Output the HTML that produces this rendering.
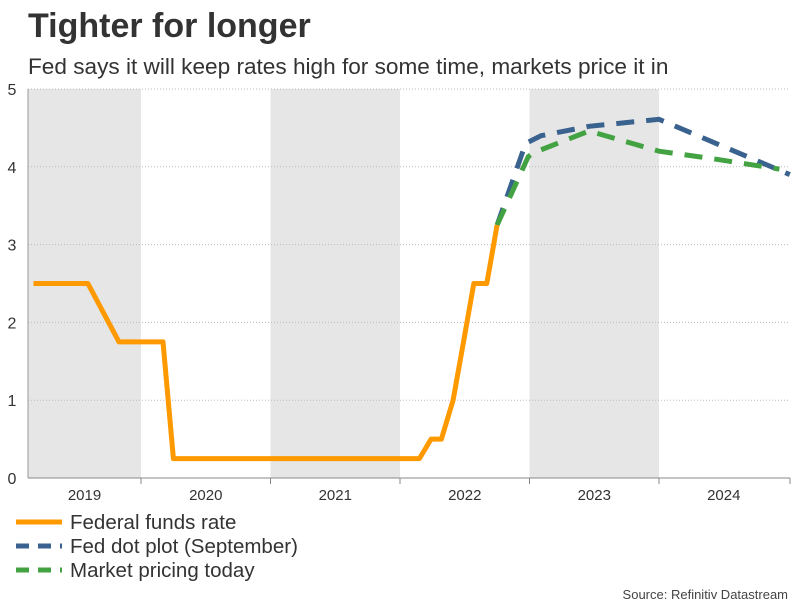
<!DOCTYPE html>
<html><head><meta charset="utf-8"><style>
body{margin:0;background:#fff;font-family:"Liberation Sans",sans-serif;}
svg text{font-family:"Liberation Sans",sans-serif;}
</style></head><body>
<svg width="806" height="605" id="c">
<text x="28" y="37" font-size="34" font-weight="bold" fill="#333">Tighter for longer</text>
<text x="28" y="74" font-size="22.6" fill="#333">Fed says it will keep rates high for some time, markets price it in</text>
<g id="bands"></g><g id="grid"></g><g id="axes"></g><g id="lines"></g>
<g>
<line x1="16" y1="522" x2="62" y2="522" stroke="#ff9900" stroke-width="5"/>
<text x="70" y="529" font-size="20.5" fill="#333">Federal funds rate</text>
<line x1="16" y1="546" x2="62" y2="546" stroke="#3a628e" stroke-width="5" stroke-dasharray="13,9"/>
<text x="70" y="553" font-size="20.5" fill="#333">Fed dot plot (September)</text>
<line x1="16" y1="570" x2="62" y2="570" stroke="#43a343" stroke-width="5" stroke-dasharray="13,9"/>
<text x="70" y="577" font-size="20.5" fill="#333">Market pricing today</text>
</g>
<text x="788" y="599" font-size="13" fill="#444" text-anchor="end">Source: Refinitiv Datastream</text>
</svg>
<script>
const yearLabels=[2019,2020,2021,2022,2023,2024];
const yTicks=[0,1,2,3,4,5];
const ffT=[2019.17,2019.59,2019.75,2019.83,2020.17,2020.25,2022.15,2022.24,2022.32,2022.41,2022.49,2022.57,2022.67,2022.75];
const ffV=[2.5,2.5,2.0,1.75,1.75,0.25,0.25,0.5,0.5,1.0,1.75,2.5,2.5,3.25];
const dotT=[2022.75,2022.97,2023.09,2023.46,2024.0,2025.01];
const dotV=[3.25,4.3,4.4,4.52,4.61,3.9];
const mktT=[2022.75,2022.99,2023.03,2023.46,2024.0,2024.39,2024.93];
const mktV=[3.25,4.13,4.18,4.46,4.2,4.11,3.97];
const NS="http://www.w3.org/2000/svg";
const X0=28,X1=790,Y0=478,Y1=89;
const xs=t=>141+(t-2020)*129.5;
const ys=v=>Y0-(v/5)*(Y0-Y1);
function mk(tag,at,p){const e=document.createElementNS(NS,tag);for(const k in at)e.setAttribute(k,at[k]);p.appendChild(e);return e;}
const bands=document.getElementById('bands'),grid=document.getElementById('grid'),axes=document.getElementById('axes'),lines=document.getElementById('lines');
yearLabels.forEach((y,i)=>{
 const a=Math.max(X0,xs(y)),b=Math.min(X1,xs(y+1));
 if(i%2==0){const r=mk('rect',{x:a,y:Y1,width:b-a,height:Y0-Y1,fill:'#e6e6e6'},bands);
 
 }
 const t=mk('text',{x:(a+b)/2,y:500,'font-size':15,fill:'#333','text-anchor':'middle'},axes);t.textContent=y;
 
 
 if(i>0){const tk=mk('line',{x1:xs(y),x2:xs(y),y1:Y0,y2:Y0+6,stroke:'#888'},axes);
 
 }
});
const tkEnd=mk('line',{x1:X1,x2:X1,y1:Y0,y2:Y0+6,stroke:'#888'},axes);


yTicks.forEach(v=>{
 if(v>0){const g=mk('line',{x1:X0,x2:X1,y1:ys(v),y2:ys(v),stroke:'#bbb','stroke-dasharray':'1,2'},grid);
 
 }
 const t=mk('text',{x:12,y:ys(v)+6,'font-size':16,fill:'#333','text-anchor':'middle'},axes);t.textContent=v;
 
 
});
const ya=mk('line',{x1:X0,x2:X0,y1:Y1,y2:Y0,stroke:'#999'},axes);


const xa=mk('line',{x1:X0,x2:X1,y1:Y0,y2:Y0,stroke:'#888'},axes);


function pts(T,V){return T.map((t,i)=>xs(t).toFixed(1)+','+ys(V[i]).toFixed(1)).join(' ');}
const l1=mk('polyline',{points:pts(dotT,dotV),fill:'none',stroke:'#3a628e','stroke-width':5,'stroke-dasharray':'18,12'},lines);


const l2=mk('polyline',{points:pts(mktT,mktV),fill:'none',stroke:'#43a343','stroke-width':5,'stroke-dasharray':'18,12'},lines);


const l0=mk('polyline',{points:pts(ffT,ffV),fill:'none',stroke:'#ff9900','stroke-width':5,'stroke-linejoin':'round'},lines);


</script>
</body></html>
